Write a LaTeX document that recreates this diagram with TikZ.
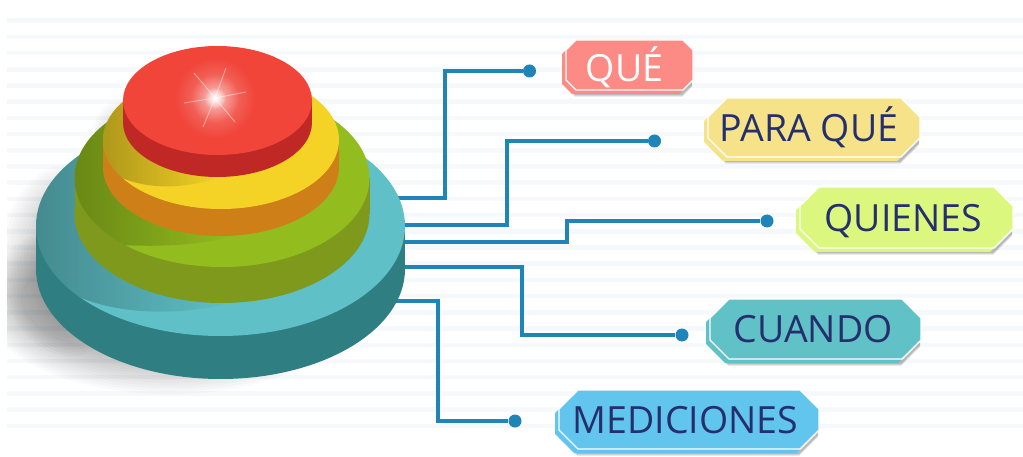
\documentclass[tikz,border=0pt]{standalone}
\usepackage{fontspec}
\setmainfont{Open Sans}
\usetikzlibrary{fadings,calc}
\definecolor{stripe}{HTML}{F5F9FC}
\definecolor{lineblue}{HTML}{1F84B8}
\definecolor{ink}{HTML}{262F6E}
\definecolor{tealtop}{HTML}{5FC1C7}\definecolor{tealside}{HTML}{2F7E82}
\definecolor{greentop}{HTML}{93BD1F}\definecolor{greenside}{HTML}{7E991B}
\definecolor{yellowtop}{HTML}{F4D326}\definecolor{yellowside}{HTML}{CF7F18}
\definecolor{redtop}{HTML}{F1453A}\definecolor{redside}{HTML}{BF2825}
\definecolor{tagqa}{HTML}{FC8A85}\definecolor{tagqb}{HTML}{F6E389}
\definecolor{tagqc}{HTML}{DCF77E}\definecolor{tagqd}{HTML}{60C1C6}
\definecolor{tagqe}{HTML}{62C5EE}
\tikzfading[name=leftdark,left color=transparent!72,right color=transparent!100]
\tikzfading[name=glow,inner color=transparent!0,outer color=transparent!100]
\tikzset{
  conn/.style={draw=lineblue,line width=3.4pt,line join=miter},
  enddot/.style={circle,fill=lineblue,minimum size=13pt,inner sep=0pt},
  ray/.style={draw=white,draw opacity=.45,line width=.9pt},
  taglabel/.style={inner sep=0pt,anchor=base,font=\fontsize{37.5}{37.5}\selectfont},
}
% x1 y1 x2 y2 chamfer
\newcommand{\octa}[5]{(#1+#5,#2) -- (#3-#5,#2) -- (#3,#2+#5) -- (#3,#4-#5) -- (#3-#5,#4) -- (#1+#5,#4) -- (#1,#4-#5) -- (#1,#2+#5) -- cycle}
% x1 y1 x2 y2 chamfer colour
\newcommand{\tagbox}[6]{%
  \foreach \o/\s in {.08/7,.10/6,.12/5}{
    \fill[black,fill opacity=\o,xshift=-1pt,yshift=-\s pt] \octa{#1}{#2}{#3}{#4}{#5};
  }
  \fill[#6,xshift=-4pt,yshift=-4pt] \octa{#1}{#2}{#3}{#4}{#5};
  \filldraw[fill=#6,draw=white,line width=1.4pt] \octa{#1}{#2}{#3}{#4}{#5};
}
% cx cy rx ry height top side
\newcommand{\disc}[7]{%
  \fill[#7] (#1-#3,#2) rectangle (#1+#3,#2+#5);
  \fill[#7] (#1,#2+#5) ellipse[x radius=#3pt,y radius=#4pt];
  \fill[#6] (#1,#2) ellipse[x radius=#3pt,y radius=#4pt];
}
% cx cy rx ry, then the shadow path
\newcommand{\faceshadow}[5]{%
  \begin{scope}
    \clip (#1,#2) ellipse[x radius=#3pt,y radius=#4pt];
    \fill[black,path fading=leftdark] #5;
  \end{scope}
}
\begin{document}
\begin{tikzpicture}[x=1pt,y=-1pt]
\useasboundingbox (0,0) rectangle (1023,457);
\fill[white] (0,0) rectangle (1023,457);
% stripes
\foreach \k in {0,...,25}{
  \fill[stripe] (7,{20.5+16.2*\k-2}) rectangle (1023,{20.5+16.2*\k+2.5});
}
% outer soft shadows
\begin{scope}
  \clip (7,0) rectangle (1023,457);
  \foreach \r in {0,3,...,36}{
    \fill[black,fill opacity=.02] (170,300) ellipse[x radius={150+\r*1.1},y radius={60+\r*.95}];
    \fill[black,fill opacity=.015] (70,260) ellipse[x radius={30+\r*1.1},y radius={60+\r}];
    \fill[black,fill opacity=.013] (120,150) ellipse[x radius={10+\r*.6},y radius={25+\r*.7}];
  }
\end{scope}
% connector anchors
\coordinate (s1) at (390,198);
\coordinate (s2) at (395,225);
\coordinate (s3) at (395,242);
\coordinate (s4) at (395,267);
\coordinate (s5) at (392,301);
\node[enddot] (d1) at (529.5,71) {};
\node[enddot] (d2) at (654.5,141) {};
\node[enddot] (d3) at (767,221) {};
\node[enddot] (d4) at (682,335) {};
\node[enddot] (d5) at (515,421) {};
\draw[conn] (s1) -| (445,71) -- (d1);
\draw[conn] (s2) -| (507,141) -- (d2);
\draw[conn] (s3) -| (567,221) -- (d3);
\draw[conn] (s4) -| (522,335) -- (d4);
\draw[conn] (s5) -| (438,421) -- (d5);
% discs
\disc{220.5}{226}{184.5}{110}{43}{tealtop}{tealside}
\faceshadow{220.5}{226}{184.5}{110}{(36,150) -- (36,300) -- (75,295) .. controls (105,310) and (165,320) .. (235,302) -- (235,150) -- cycle}
\disc{222}{178}{147.5}{89}{36}{greentop}{greenside}
\faceshadow{222}{178}{147.5}{89}{(74,110) -- (74,245) -- (120,245) .. controls (140,246) and (190,248) .. (235,236) -- (235,110) -- cycle}
\disc{221}{140}{118}{69}{27}{yellowtop}{yellowside}
\faceshadow{221}{140}{118}{69}{(103,90) -- (103,178) -- (118,176) .. controls (140,187) and (175,192) .. (222,177) -- (222,90) -- cycle}
\disc{217.5}{100.5}{94.5}{54.5}{22}{redtop}{redside}
% sparkle
\fill[white,fill opacity=.35,path fading=glow] (215,98) circle[radius=40pt];
\fill[white,fill opacity=.5,path fading=glow] (215,98) circle[radius=24pt];
\fill[white,path fading=glow] (215,98) circle[radius=11pt];
\coordinate (c) at (215,98);
\coordinate (r1) at (194,73);
\coordinate (r2) at (226,68);
\coordinate (r3) at (246,92);
\coordinate (r4) at (235,122);
\coordinate (r5) at (203,127);
\coordinate (r6) at (184,103);
\foreach \i in {1,...,6}{\draw[ray] (c) -- (r\i);}
% tags
\tagbox{566}{40}{693}{90}{10}{tagqa}
\tagbox{708}{98}{920}{157}{19}{tagqb}
\tagbox{800}{187}{1013}{248}{19}{tagqc}
\tagbox{710}{299}{921}{359}{19}{tagqd}
\tagbox{559}{390}{819}{449}{19}{tagqe}
\node[taglabel,text=white] (t1) at (624.5,82) {QUÉ};
\node[taglabel,text=ink] (t2) at (809,142) {PARA QUÉ};
\node[taglabel,text=ink] (t3) at (903.5,232) {QUIENES};
\node[taglabel,text=ink] (t4) at (813,342) {CUANDO};
\node[taglabel,text=ink] (t5) at (685.5,433) {MEDICIONES};
\end{tikzpicture}
\end{document}
